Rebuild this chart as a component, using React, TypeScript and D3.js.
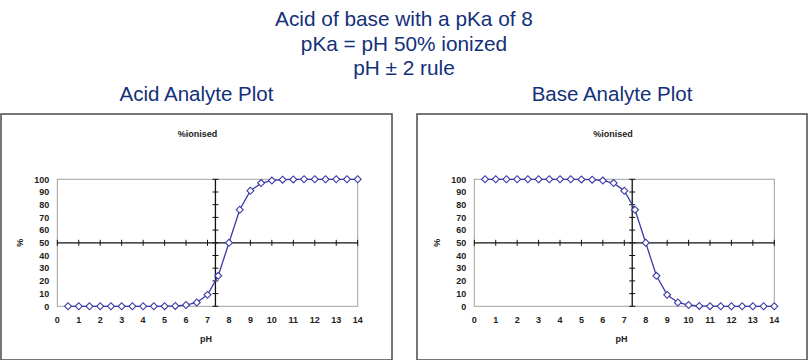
import React, { useEffect, useRef } from "react"
import * as d3 from "d3"

const WIDTH = 809
const HEIGHT = 360

const headerLines = ["Acid of base with a pKa of 8", "pKa = pH 50% ionized", "pH \u00b1 2 rule"]

const pH = [0.5, 1, 1.5, 2, 2.5, 3, 3.5, 4, 4.5, 5, 5.5, 6, 6.5, 7, 7.5, 8, 8.5, 9, 9.5, 10, 10.5, 11, 11.5, 12, 12.5, 13, 13.5, 14]

const acidIonised = [0, 0, 0, 0, 0, 0, 0, 0, 0, 0.1, 0.3, 1, 3, 9, 24, 50, 76, 91, 97, 99, 99.7, 99.9, 100, 100, 100, 100, 100, 100]
const baseIonised = [100, 100, 100, 100, 100, 100, 100, 100, 100, 99.9, 99.7, 99, 97, 91, 76, 50, 24, 9, 3, 1, 0.3, 0.1, 0, 0, 0, 0, 0, 0]

const xTicks = d3.range(0, 15)
const yTicks = d3.range(0, 101, 10)
const Y_AXIS_CROSS = 7.37 // vertical axis sits just left of pH 7.5
const X_AXIS_CROSS = 50

const NAVY = "#13307a"
const LINE = "#3b3ba6"
const FONT = "'Liberation Sans', Arial, sans-serif"

interface Panel {
    title: string
    values: number[]
    box: { x: number; y: number; w: number; h: number }
    plot: { left: number; right: number; top: number; bottom: number }
}

const panels: Panel[] = [
    {
        title: "Acid Analyte Plot",
        values: acidIonised,
        box: { x: 1, y: 114, w: 391, h: 246 },
        plot: { left: 57.3, right: 357.7, top: 179.3, bottom: 306.3 },
    },
    {
        title: "Base Analyte Plot",
        values: baseIonised,
        box: { x: 417, y: 114, w: 390, h: 246 },
        plot: { left: 474.3, right: 774.3, top: 179.3, bottom: 306.3 },
    },
]

const App: React.FC = () => {
    const svgRef = useRef<SVGSVGElement | null>(null)

    useEffect(() => {
        if (!svgRef.current) return
        const svg = d3.select(svgRef.current)
        svg.selectAll("*").remove()

        svg.append("rect").attr("width", WIDTH).attr("height", HEIGHT).attr("fill", "#fff")

        // heading
        svg.append("g")
            .selectAll("text")
            .data(headerLines)
            .enter()
            .append("text")
            .attr("x", 404)
            .attr("y", (_, i) => 26 + i * 24.5)
            .attr("text-anchor", "middle")
            .style("font-family", FONT)
            .style("font-size", "20.8px")
            .attr("fill", NAVY)
            .text(d => d)

        panels.forEach(p => {
            const g = svg.append("g")
            const cx = p.box.x + p.box.w / 2

            g.append("text")
                .attr("x", cx)
                .attr("y", 101)
                .attr("text-anchor", "middle")
                .style("font-family", FONT)
                .style("font-size", "20.5px")
                .attr("fill", NAVY)
                .text(p.title)

            g.append("rect")
                .attr("x", p.box.x)
                .attr("y", p.box.y)
                .attr("width", p.box.w)
                .attr("height", p.box.h)
                .attr("fill", "#fff")
                .attr("stroke", "#4a4a4a")
                .attr("stroke-width", 1.5)

            const x = d3.scaleLinear().domain([0, 14]).range([p.plot.left, p.plot.right])
            const y = d3.scaleLinear().domain([0, 100]).range([p.plot.bottom, p.plot.top])

            // plot area border
            g.append("rect")
                .attr("x", x(0))
                .attr("y", y(100))
                .attr("width", x(14) - x(0))
                .attr("height", y(0) - y(100))
                .attr("fill", "none")
                .attr("stroke", "#a0a0a0")
                .attr("stroke-width", 1)

            const txt = (sel: d3.Selection<SVGTextElement, any, any, any>) =>
                sel.style("font-family", FONT).style("font-size", "9px").style("font-weight", "bold").attr("fill", "#222")

            // chart title
            txt(g.append("text"))
                .attr("x", cx + 1)
                .attr("y", 137)
                .attr("text-anchor", "middle")
                .text("%ionised")

            // horizontal axis at 50 with crossing ticks
            const hAxis = g.append("g")
            hAxis.append("line")
                .attr("x1", x(0)).attr("x2", x(14))
                .attr("y1", y(X_AXIS_CROSS)).attr("y2", y(X_AXIS_CROSS))
                .attr("stroke", "#111").attr("stroke-width", 1.3)
            hAxis.selectAll("line.tick")
                .data(xTicks)
                .enter()
                .append("line")
                .attr("class", "tick")
                .attr("x1", d => x(d)).attr("x2", d => x(d))
                .attr("y1", y(X_AXIS_CROSS) - 3).attr("y2", y(X_AXIS_CROSS) + 3)
                .attr("stroke", "#111").attr("stroke-width", 1)

            // vertical axis near pH 7.4
            const vAxis = g.append("g")
            vAxis.append("line")
                .attr("x1", x(Y_AXIS_CROSS)).attr("x2", x(Y_AXIS_CROSS))
                .attr("y1", y(0)).attr("y2", y(100))
                .attr("stroke", "#111").attr("stroke-width", 1.3)
            vAxis.selectAll("line.tick")
                .data(yTicks)
                .enter()
                .append("line")
                .attr("class", "tick")
                .attr("x1", x(Y_AXIS_CROSS) - 3).attr("x2", x(Y_AXIS_CROSS) + 3)
                .attr("y1", d => y(d)).attr("y2", d => y(d))
                .attr("stroke", "#111").attr("stroke-width", 1)

            // tick labels sit at the low side of the plot
            txt(g.append("g").selectAll("text").data(xTicks).enter().append("text"))
                .attr("x", d => x(d))
                .attr("y", p.plot.bottom + 17)
                .attr("text-anchor", "middle")
                .text(d => String(d))

            txt(g.append("g").selectAll("text").data(yTicks).enter().append("text"))
                .attr("x", p.plot.left - 8)
                .attr("y", d => y(d) + 3.2)
                .attr("text-anchor", "end")
                .text(d => String(d))

            txt(g.append("text"))
                .attr("x", cx + 9.5)
                .attr("y", 342)
                .attr("text-anchor", "middle")
                .text("pH")

            txt(g.append("text"))
                .attr("transform", `translate(${p.plot.left - 34},${y(50)}) rotate(-90)`)
                .attr("text-anchor", "middle")
                .text("%")

            // curve
            const pts: [number, number][] = pH.map((v, i) => [v, p.values[i]])
            const line = d3.line<[number, number]>().x(d => x(d[0])).y(d => y(d[1]))
            g.append("path")
                .attr("d", line(pts))
                .attr("fill", "none")
                .attr("stroke", LINE)
                .attr("stroke-width", 1.3)

            const diamond = d3.symbol().type(d3.symbolSquare).size(24)
            g.append("g")
                .selectAll("path")
                .data(pts)
                .enter()
                .append("path")
                .attr("d", diamond()!)
                .attr("transform", d => `translate(${x(d[0])},${y(d[1])}) rotate(45)`)
                .attr("fill", "#fff")
                .attr("stroke", LINE)
                .attr("stroke-width", 1.1)
        })
    }, [])

    return (
        <svg
            ref={svgRef}
            width={WIDTH}
            height={HEIGHT}
            style={{ position: "absolute", left: 0, top: 0 }}
        />
    )
}

export default App
